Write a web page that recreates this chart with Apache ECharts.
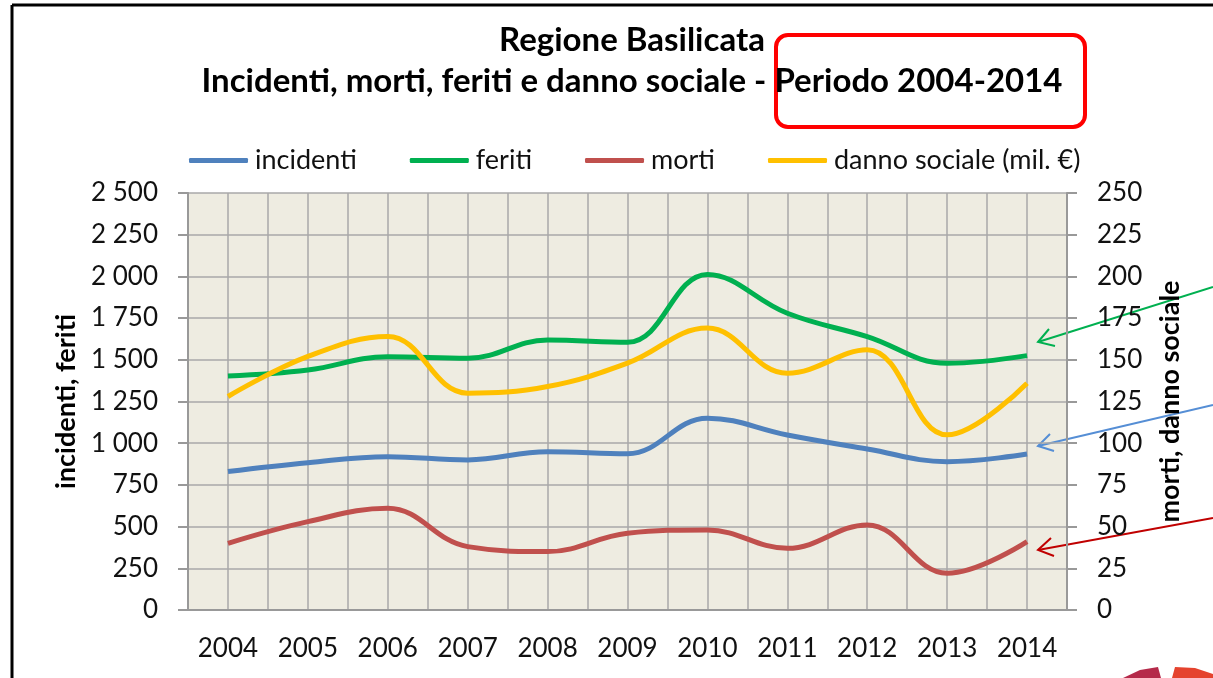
<!DOCTYPE html>
<html>
<head>
<meta charset="utf-8">
<script src="https://cdn.jsdelivr.net/npm/echarts@6/dist/echarts.min.js"></script>
<style>
  html, body { margin: 0; padding: 0; background: #fff; }
  #chart { width: 1213px; height: 678px; }
</style>
</head>
<body>
<div id="chart"></div>
<script>
// data
var years = ['2004', '2005', '2006', '2007', '2008', '2009', '2010', '2011', '2012', '2013', '2014'];
var incidenti = [830, 883, 919, 900, 949, 937, 1150, 1049, 965, 889, 935];
var feriti = [1403, 1439, 1519, 1509, 1619, 1605, 2012, 1779, 1639, 1479, 1525];
var morti = [40, 53, 61, 38, 35, 46, 48, 37, 51, 22, 41];
var danno = [128, 152, 164, 130, 134, 148, 169, 142, 156, 105, 136];

var leftMax = 2500, leftStep = 250;
var rightMax = 250, rightStep = 25;

var FONT = 'Lato, "Open Sans", sans-serif';
var GRID_GRAY = '#a9a9a9';

function thousands(v) {
    return String(v).replace(/\B(?=(\d{3})+(?!\d))/g, ' ');
}

var chart = echarts.init(document.getElementById('chart'));

chart.setOption({
    animation: false,
    textStyle: {fontFamily: FONT, color: '#111'},
    title: {
        text: 'Regione Basilicata\nIncidenti, morti, feriti e danno sociale - Periodo 2004-2014',
        left: 632,
        top: 20,
        padding: 0,
        textAlign: 'center',
        textStyle: {fontFamily: FONT, fontSize: 33, fontWeight: 'bold', color: '#000', lineHeight: 41}
    },
    legend: {
        top: 142,
        left: 184,
        itemWidth: 59,
        itemHeight: 5,
        itemGap: 53,
        icon: 'roundRect',
        textStyle: {fontFamily: FONT, fontSize: 27, color: '#111', padding: [0, 0, 0, 2]},
        data: ['incidenti', 'feriti', 'morti', 'danno sociale (mil. €)']
    },
    grid: {
        left: 188, right: 146, top: 193, bottom: 68,
        show: true, backgroundColor: '#EEECE1', borderWidth: 0
    },
    xAxis: [{
        type: 'category',
        data: years,
        boundaryGap: true,
        axisLine: {lineStyle: {color: '#999', width: 2}},
        axisTick: {length: 10, interval: 0, lineStyle: {color: '#999', width: 2}},
        axisLabel: {fontSize: 26, margin: 26, color: '#111', fontFamily: FONT},
        splitLine: {show: false}
    }, {
        // half-category vertical grid of the Excel plot
        type: 'value',
        min: 0, max: years.length * 2, interval: 1,
        show: true,
        axisLine: {show: false}, axisTick: {show: false}, axisLabel: {show: false},
        splitLine: {show: true, lineStyle: {color: GRID_GRAY, width: 1.5}}
    }],
    yAxis: [{
        type: 'value',
        min: 0, max: leftMax, interval: leftStep,
        name: 'incidenti, feriti',
        nameLocation: 'middle',
        nameRotate: 90,
        nameGap: 108,
        nameTextStyle: {fontFamily: FONT, fontSize: 27, fontWeight: 'bold', color: '#000'},
        axisLine: {show: true, lineStyle: {color: '#999', width: 2}},
        axisTick: {show: true, length: 10, lineStyle: {color: '#999', width: 2}},
        axisLabel: {fontSize: 26, margin: 30, color: '#111', fontFamily: FONT, formatter: thousands},
        splitLine: {show: true, lineStyle: {color: GRID_GRAY, width: 1.5}}
    }, {
        type: 'value',
        position: 'right',
        min: 0, max: rightMax, interval: rightStep,
        name: 'morti, danno sociale',
        nameLocation: 'middle',
        nameRotate: 90,
        nameGap: 90,
        nameTextStyle: {fontFamily: FONT, fontSize: 27, fontWeight: 'bold', color: '#000'},
        axisLine: {show: true, lineStyle: {color: '#999', width: 2}},
        axisTick: {show: true, length: 10, lineStyle: {color: '#999', width: 2}},
        axisLabel: {fontSize: 26, margin: 30, color: '#111', fontFamily: FONT},
        splitLine: {show: false}
    }],
    series: [
        {name: 'incidenti', type: 'line', data: incidenti, yAxisIndex: 0, smooth: 0.4, symbol: 'none',
            itemStyle: {color: '#4F81BD'}, lineStyle: {width: 5, color: '#4F81BD'}},
        {name: 'feriti', type: 'line', data: feriti, yAxisIndex: 0, smooth: 0.4, symbol: 'none',
            itemStyle: {color: '#00B050'}, lineStyle: {width: 5, color: '#00B050'}},
        {name: 'morti', type: 'line', data: morti, yAxisIndex: 1, smooth: 0.4, symbol: 'none',
            itemStyle: {color: '#C0504D'}, lineStyle: {width: 5, color: '#C0504D'}},
        {name: 'danno sociale (mil. €)', type: 'line', data: danno, yAxisIndex: 1, smooth: 0.4, symbol: 'none',
            itemStyle: {color: '#FFC000'}, lineStyle: {width: 5, color: '#FFC000'}}
    ],
    graphic: [
        // slide frame
        {type: 'line', shape: {x1: 12, y1: 5, x2: 12, y2: 678}, style: {stroke: '#000', lineWidth: 3}},
        {type: 'line', shape: {x1: 12, y1: 5, x2: 1213, y2: 5}, style: {stroke: '#000', lineWidth: 3}},
        // highlight box round the period
        {type: 'rect', shape: {x: 776, y: 35, width: 309, height: 92, r: 12},
            style: {fill: 'none', stroke: '#FF0000', lineWidth: 4}},
        // arrows pointing to the line ends
        {type: 'line', shape: {x1: 1213, y1: 287, x2: 1038, y2: 342}, style: {stroke: '#00B050', lineWidth: 2}},
        {type: 'polyline', shape: {points: [[1049, 329], [1038, 342], [1055, 346]]}, style: {stroke: '#00B050', lineWidth: 2, fill: 'none'}},
        {type: 'line', shape: {x1: 1213, y1: 405, x2: 1038, y2: 446}, style: {stroke: '#558ED5', lineWidth: 2}},
        {type: 'polyline', shape: {points: [[1050, 434], [1038, 446], [1054, 451]]}, style: {stroke: '#558ED5', lineWidth: 2, fill: 'none'}},
        {type: 'line', shape: {x1: 1213, y1: 518, x2: 1038, y2: 550}, style: {stroke: '#C00000', lineWidth: 2}},
        {type: 'polyline', shape: {points: [[1051, 538], [1038, 550], [1054, 556]]}, style: {stroke: '#C00000', lineWidth: 2, fill: 'none'}},
        // edge of a logo cut off at the bottom right
        {type: 'polygon', shape: {points: [[1123, 678], [1140, 670], [1158, 667], [1161, 678]]}, style: {fill: '#B52A4A'}},
        {type: 'polygon', shape: {points: [[1172, 678], [1175, 667], [1195, 668], [1213, 674], [1213, 678]]}, style: {fill: '#E5432E'}}
    ]
});
</script>
</body>
</html>
